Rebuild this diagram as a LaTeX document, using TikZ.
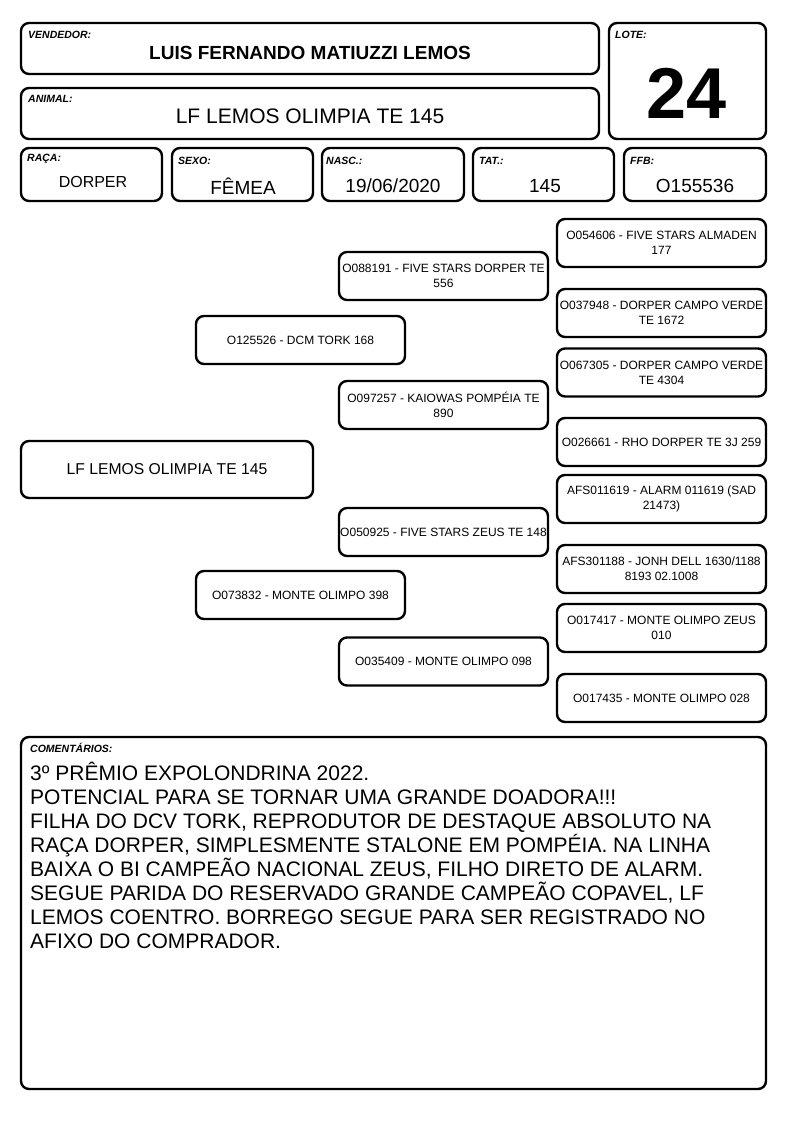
\documentclass[tikz,border=0pt]{standalone}
\usepackage{fontspec}
\setmainfont{Liberation Sans}

\tikzset{
  card/.style={draw,line width=2.4pt,rounded corners=8pt},
  tag/.style={anchor=west,inner sep=0pt,font=\fontsize{10.5}{11}\selectfont\bfseries\itshape},
  value/.style={inner sep=0pt,font=\fontsize{19}{20}\selectfont},
  pedbox/.style={draw,line width=2.4pt,rounded corners=8pt,inner sep=0pt,
    minimum width=209pt,minimum height=48pt,align=center,
    font=\fontsize{12}{15}\selectfont}
}

\begin{document}
\begin{tikzpicture}[x=1pt,y=-1pt,line cap=round,line join=round]
  \useasboundingbox (0,0) rectangle (794,1123);

  % header cards
  \draw[card] (21,23) rectangle (599,74);
  \draw[card] (609,23) rectangle (766,139);
  \draw[card] (21,88) rectangle (599,139);
  \draw[card] (21,148) rectangle (162,201);
  \draw[card] (172,148) rectangle (313,201);
  \draw[card] (322,148) rectangle (464,201);
  \draw[card] (473,148) rectangle (614,201);
  \draw[card] (624,148) rectangle (766,201);

  \node[tag] (vendtag) at (28,35) {VENDEDOR:};
  \node[inner sep=0pt,font=\fontsize{19}{20}\selectfont\bfseries] (vend) at (310,53) {LUIS FERNANDO MATIUZZI LEMOS};
  \node[tag] (lotetag) at (615,35) {LOTE:};
  \node[inner sep=0pt,font=\fontsize{72}{72}\selectfont\bfseries] (lote) at (687,93) {24};
  \node[tag] (animtag) at (28,99) {ANIMAL:};
  \node[inner sep=0pt,font=\fontsize{21}{22}\selectfont] (anim) at (310,116) {LF LEMOS OLIMPIA TE 145};

  \node[tag] (racatag) at (27,159) {RAÇA:};
  \node[tag] (sexotag) at (178,161) {SEXO:};
  \node[tag] (nasctag) at (326,161) {NASC.:};
  \node[tag] (tattag) at (479,161) {TAT.:};
  \node[tag] (ffbtag) at (630,161) {FFB:};
  \node[value,font=\fontsize{16}{18}\selectfont] (raca) at (93,182) {DORPER};
  \node[value] (sexo) at (243,186) {FÊMEA};
  \node[value] (nasc) at (393,186) {19/06/2020};
  \node[value] (tat) at (545,186) {145};
  \node[value] (ffb) at (695,186) {O155536};

  % pedigree
  \node[pedbox,minimum width=292pt,minimum height=57pt,font=\fontsize{15.7}{18}\selectfont] (self) at (167,469.5) {LF LEMOS OLIMPIA TE 145};

  \node[pedbox] (sire) at (300.5,340) {O125526 - DCM TORK 168};
  \node[pedbox] (dam) at (300.5,595) {O073832 - MONTE OLIMPO 398};

  \node[pedbox] (ss) at (443.5,276) {O088191 - FIVE STARS DORPER TE\\556};
  \node[pedbox] (sd) at (443.5,405) {O097257 - KAIOWAS POMPÉIA TE\\890};
  \node[pedbox] (ds) at (443.5,532) {O050925 - FIVE STARS ZEUS TE 148};
  \node[pedbox] (dd) at (443.5,661.5) {O035409 - MONTE OLIMPO 098};

  \node[pedbox] (sss) at (661.5,243) {O054606 - FIVE STARS ALMADEN\\177};
  \node[pedbox] (ssd) at (661.5,313) {O037948 - DORPER CAMPO VERDE\\TE 1672};
  \node[pedbox] (sds) at (661.5,372.5) {O067305 - DORPER CAMPO VERDE\\TE 4304};
  \node[pedbox] (sdd) at (661.5,442) {O026661 - RHO DORPER TE 3J 259};
  \node[pedbox] (dss) at (661.5,499) {AFS011619 - ALARM 011619 (SAD\\21473)};
  \node[pedbox] (dsd) at (661.5,569) {AFS301188 - JONH DELL 1630/1188\\8193 02.1008};
  \node[pedbox] (dds) at (661.5,628) {O017417 - MONTE OLIMPO ZEUS\\010};
  \node[pedbox] (ddd) at (661.5,698) {O017435 - MONTE OLIMPO 028};

  % comments
  \draw[card] (21,737) rectangle (766,1089);
  \node[tag] (comtag) at (30,748) {COMENTÁRIOS:};
  \node[anchor=north west,inner sep=0pt,align=left,font=\fontsize{21}{24}\selectfont] (com) at (30,762)
    {3º PRÊMIO EXPOLONDRINA 2022.\\
     POTENCIAL PARA SE TORNAR UMA GRANDE DOADORA!!!\\
     FILHA DO DCV TORK, REPRODUTOR DE DESTAQUE ABSOLUTO NA\\
     RAÇA DORPER, SIMPLESMENTE STALONE EM POMPÉIA. NA LINHA\\
     BAIXA O BI CAMPEÃO NACIONAL ZEUS, FILHO DIRETO DE ALARM.\\
     SEGUE PARIDA DO RESERVADO GRANDE CAMPEÃO COPAVEL, LF\\
     LEMOS COENTRO. BORREGO SEGUE PARA SER REGISTRADO NO\\
     AFIXO DO COMPRADOR.};
\end{tikzpicture}
\end{document}
